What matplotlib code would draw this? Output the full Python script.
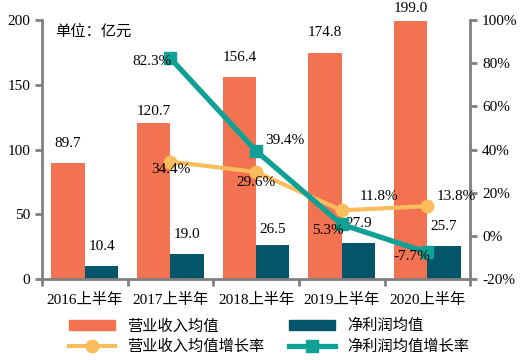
import numpy as np
import matplotlib.pyplot as plt
from matplotlib.lines import Line2D
from matplotlib.patches import Patch

plt.rcParams['font.family'] = ['Liberation Serif', 'Noto Sans CJK SC']

years = ['2016上半年', '2017上半年', '2018上半年', '2019上半年', '2020上半年']
revenue = [89.7, 120.7, 156.4, 174.8, 199.0]
profit = [10.4, 19.0, 26.5, 27.9, 25.7]
rev_growth = [34.4, 29.6, 11.8, 13.8]
profit_growth = [82.3, 39.4, 5.3, -7.7]

c_rev = '#F27252'
c_prof = '#03556A'
c_revg = '#FBBC5C'
c_profg = '#0FA195'
gray = '#808080'

fig = plt.figure(figsize=(5.28, 3.6), dpi=100)
ax = fig.add_axes([0.0795, 0.225, 0.811, 0.719])
x = np.arange(len(years))
w = 0.39

ax.bar(x - w / 2, revenue, w, color=c_rev)
ax.bar(x + w / 2, profit, w, color=c_prof)
# label offsets above bar tops (data units)
rev_lab = [15, 9, 15, 16, 10]
prof_lab = [15, 15, 12, 15, 15]
for i in range(len(years)):
    ax.text(x[i] - w / 2, revenue[i] + rev_lab[i], f'{revenue[i]:.1f}', ha='center', va='center', fontsize=11)
    ax.text(x[i] + w / 2, profit[i] + prof_lab[i], f'{profit[i]:.1f}', ha='center', va='center', fontsize=11)

ax.set_xlim(-0.5, len(years) - 0.5)
ax.set_ylim(0, 200)
ax.set_yticks([0, 50, 100, 150, 200])
ax.set_xticks(x)
ax.set_xticklabels(years, fontsize=11)
ax.set_xticks(np.arange(-0.5, len(years)), minor=True)
ax.tick_params(axis='x', which='major', length=0, pad=10)
ax.tick_params(axis='x', which='minor', length=5, width=2, color=gray)
ax.tick_params(axis='y', length=5, width=2, color=gray, labelsize=11)
for s in ['top', 'right']:
    ax.spines[s].set_visible(False)
for s in ['left', 'bottom']:
    ax.spines[s].set_color(gray)
    ax.spines[s].set_linewidth(2)

ax.text(0.03, 0.985, '单位：亿元', transform=ax.transAxes, fontsize=11,
        family=['Noto Sans CJK SC'], va='top')

ax2 = ax.twinx()
ax2.set_ylim(-20, 100)
ax2.set_yticks([-20, 0, 20, 40, 60, 80, 100])
ax2.set_yticklabels([f'{v}%' for v in [-20, 0, 20, 40, 60, 80, 100]])
ax2.tick_params(axis='y', length=5, width=2, color=gray, labelsize=11)
for s in ['top', 'left', 'bottom']:
    ax2.spines[s].set_visible(False)
ax2.spines['right'].set_color(gray)
ax2.spines['right'].set_linewidth(2)

xg = x[1:]
ax2.plot(xg, rev_growth, color=c_revg, lw=3, marker='o', ms=9, zorder=3)
ax2.plot(xg, profit_growth, color=c_profg, lw=3.8, marker='s', ms=8, zorder=4)

rev_off = [(0, -3.7), (0, -5), (0.43, 6.5), (0.34, 4.6)]
prof_off = [(-0.21, -1.4), (0.33, 4.6), (-0.16, -2.8), (-0.18, -1.9)]
for i in range(len(xg)):
    dx, dy = rev_off[i]
    ax2.text(xg[i] + dx, rev_growth[i] + dy, f'{rev_growth[i]}%', ha='center', va='center', fontsize=11, zorder=5)
    dx, dy = prof_off[i]
    ax2.text(xg[i] + dx, profit_growth[i] + dy, f'{profit_growth[i]}%', ha='center', va='center', fontsize=11, zorder=5)

handles = [Patch(color=c_rev), Patch(color=c_prof),
           Line2D([], [], color=c_revg, lw=3, marker='o', ms=9),
           Line2D([], [], color=c_profg, lw=3.8, marker='s', ms=8)]
labels = ['营业收入均值', '净利润均值', '营业收入均值增长率', '净利润均值增长率']
order = [0, 2, 1, 3]
fig.legend([handles[i] for i in order], [labels[i] for i in order],
           loc='lower center', bbox_to_anchor=(0.51, -0.025), ncol=2, frameon=False,
           prop={'family': 'Noto Sans CJK SC', 'size': 11}, handlelength=3,
           columnspacing=1.6, labelspacing=0.25)

fig.savefig('out.png', dpi=100)
